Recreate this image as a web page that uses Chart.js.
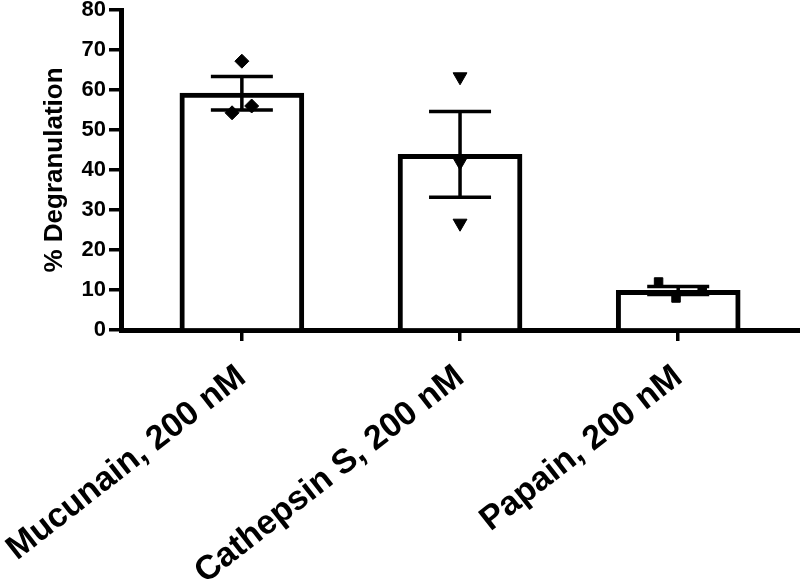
<!DOCTYPE html>
<html>
<head>
<meta charset="utf-8">
<script src="https://cdn.jsdelivr.net/npm/chart.js@4"></script>
<style>
  html, body { margin: 0; padding: 0; background: #fff; }
  #wrap { width: 800px; height: 584px; }
</style>
</head>
<body>
<div id="wrap"><canvas id="chart" width="800" height="584"></canvas></div>
<script>
// groups on the x axis
const categories = ["Mucunain, 200 nM", "Cathepsin S, 200 nM", "Papain, 200 nM"];
// bar heights (mean) and SEM
const means = [59.2, 43.9, 9.9];
const sems = [4.2, 10.7, 1.0];
// individual replicates per group
const mucunainPts = [54.3, 67.2, 56.0];
const cathepsinPts = [63.3, 42.0, 26.7];
const papainPts = [12.0, 8.0, 9.75];
// small horizontal scatter of the replicate symbols (category units)
const mucunainJitter = [-0.045, 0, 0.045];
const cathepsinJitter = [0, 0, 0];
const papainJitter = [-0.09, -0.01, 0.11];
const yTicks = [0, 10, 20, 30, 40, 50, 60, 70, 80];

const FONT = "'Liberation Sans', Arial, sans-serif";

function pts(group, values, jitter) {
    return values.map((v, i) => ({ x: group + jitter[i], y: v }));
}

// draws mean +/- SEM whiskers on top of the bars
const errorBars = {
    id: "errorBars",
    afterDatasetsDraw(chart) {
        const ctx = chart.ctx;
        const xs = chart.scales.x, ys = chart.scales.y;
        ctx.save();
        ctx.strokeStyle = "#000";
        ctx.lineWidth = 3.5;
        means.forEach((m, i) => {
            const cx = xs.getPixelForValue(i);
            const top = ys.getPixelForValue(m + sems[i]);
            const bot = ys.getPixelForValue(m - sems[i]);
            const half = 31;
            ctx.beginPath();
            ctx.moveTo(cx, top); ctx.lineTo(cx, bot);
            ctx.moveTo(cx - half, top); ctx.lineTo(cx + half, top);
            ctx.moveTo(cx - half, bot); ctx.lineTo(cx + half, bot);
            ctx.stroke();
        });
        ctx.restore();
    },
    afterDraw(chart) {
        // x axis line runs on to the edge of the canvas
        const ctx = chart.ctx;
        const yLine = Math.floor(chart.scales.x.top) + 0.5;
        ctx.save();
        ctx.strokeStyle = "#000";
        ctx.lineWidth = 5;
        ctx.beginPath();
        ctx.moveTo(chart.chartArea.right - 6, yLine);
        ctx.lineTo(chart.width, yLine);
        ctx.stroke();
        ctx.restore();
    }
};

const ctx = document.getElementById("chart").getContext("2d");
new Chart(ctx, {
    type: "bar",
    data: {
        datasets: [{
            type: "bar",
            data: means.map((m, i) => ({ x: i, y: m })),
            backgroundColor: "#fff",
            borderColor: "#000",
            borderWidth: 5,
            barThickness: 124,
            order: 3
        }, {
            type: "scatter",
            data: pts(0, mucunainPts, mucunainJitter),
            pointStyle: "rectRot",
            pointRadius: 7,
            backgroundColor: "#000",
            borderColor: "#000",
            order: 1
        }, {
            type: "scatter",
            data: pts(1, cathepsinPts, cathepsinJitter),
            pointStyle: "triangle",
            rotation: 180,
            pointRadius: 8,
            backgroundColor: "#000",
            borderColor: "#000",
            order: 1
        }, {
            type: "scatter",
            data: pts(2, papainPts, papainJitter),
            pointStyle: "rect",
            pointRadius: 6,
            backgroundColor: "#000",
            borderColor: "#000",
            order: 1
        }]
    },
    options: {
        responsive: false,
        animation: false,
        layout: { padding: { top: 10, right: 0, left: 0, bottom: 0 } },
        plugins: { legend: { display: false }, tooltip: { enabled: false } },
        scales: {
            x: {
                type: "linear",
                min: -0.554,
                max: 2.517,
                offset: false,
                afterBuildTicks: (s) => { s.ticks = categories.map((c, i) => ({ value: i })); },
                afterFit: (s) => {
                    s.height = 254;
                    s.paddingLeft = 0;
                    s.paddingRight = 0;
                },
                border: { display: true, color: "#000", width: 5 },
                grid: { offset: false, drawOnChartArea: false, drawTicks: true, tickLength: 11, lineWidth: 3.5, color: "#000" },
                ticks: {
                    autoSkip: false,
                    minRotation: 38,
                    maxRotation: 38,
                    padding: 16,
                    color: "#000",
                    font: { family: FONT, size: 34, weight: "bold" },
                    callback: (v) => categories[v]
                }
            },
            y: {
                min: 0,
                max: 80,
                afterBuildTicks: (s) => { s.ticks = yTicks.map(v => ({ value: v })); },
                afterFit: (s) => {
                    s.width = 121;
                    s.paddingTop = 0;
                    s.paddingBottom = 0;
                },
                border: { display: true, color: "#000", width: 5 },
                grid: { drawOnChartArea: false, drawTicks: true, tickLength: 12, lineWidth: 3.5, color: "#000" },
                ticks: {
                    padding: 3,
                    color: "#000",
                    font: { family: FONT, size: 22, weight: "bold" }
                },
                title: {
                    display: true,
                    text: "% Degranulation",
                    color: "#000",
                    padding: { top: 39, bottom: 0 },
                    font: { family: FONT, size: 26, weight: "bold" }
                }
            }
        }
    },
    plugins: [errorBars]
});
</script>
</body>
</html>
